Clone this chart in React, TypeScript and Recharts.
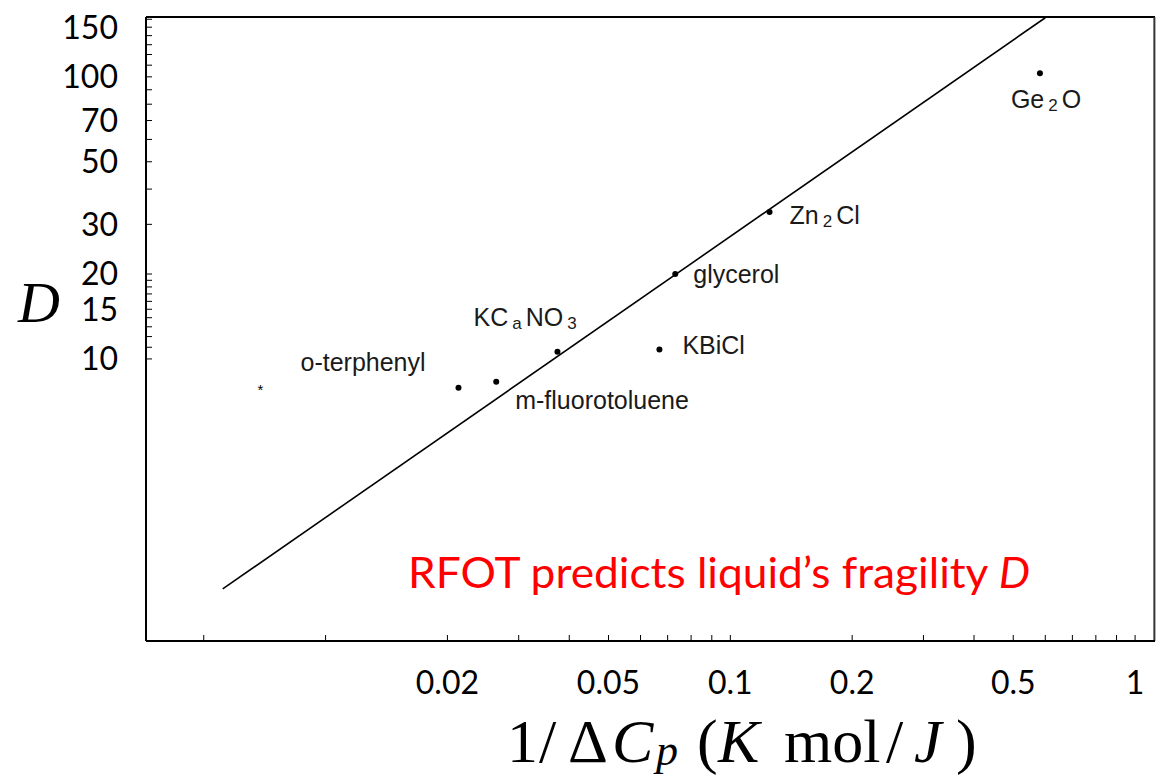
import { ComposedChart, XAxis, YAxis, Line, Scatter, ReferenceLine } from 'recharts';

// compounds (x = 1/ΔCp in K mol/J, d = fragility D)
const compounds = ['Ge_2O', 'Zn_2Cl', 'glycerol', 'KBiCl', 'KC_aNO_3', 'm-fluorotoluene', 'o-terphenyl'];
const invDeltaCp = [0.582, 0.125, 0.0731, 0.0668, 0.0374, 0.0264, 0.0213];
const fragilityD = [103, 33.2, 20.0, 10.8, 10.6, 8.3, 7.9];

// the unlabeled star marker
const starX = [0.0069];
const starD = [7.8];

// RFOT prediction line end points
const fitX = [0.00557, 0.6];
const fitD = [1.53, 162];

const xLabelTicks = [0.02, 0.05, 0.1, 0.2, 0.5, 1];
const xMinorTicks = [0.005, 0.01, 0.02, 0.03, 0.04, 0.05, 0.06, 0.07, 0.08, 0.09, 0.1, 0.2, 0.3, 0.4, 0.5, 0.6, 0.7, 0.8, 0.9, 1];
const yLabelTicks = [10, 15, 20, 30, 50, 70, 100, 150];
const yMinorTicks = [10, 11, 12, 13, 14, 15, 16, 17, 18, 19, 20, 30, 40, 50, 60, 70, 80, 90, 100, 110, 120, 130, 140, 150, 160];

const X_DOMAIN = [0.0036, 1.12];
const Y_DOMAIN = [1, 163];
// right edge of the frame, a hair inside the domain so it is not dropped
const FRAME_RIGHT = 1.116;

// where each compound's label sits relative to its dot (start x, baseline y)
const labelOffsets: Record<string, [number, number]> = {
  Ge_2O: [-29, 35],
  Zn_2Cl: [20, 12],
  glycerol: [18, 9],
  KBiCl: [23, 5],
  KC_aNO_3: [-84, -26],
  'm-fluorotoluene': [19, 27],
  'o-terphenyl': [-158, -17],
};

const points = compounds.map((name, i) => ({ name, x: invDeltaCp[i], d: fragilityD[i] }));
const stars = starX.map((x, i) => ({ x, d: starD[i] }));
const fitLine = fitX.map((x, i) => ({ x, d: fitD[i] }));

function labelParts(label: string) {
  const out: { t: string; sub: boolean }[] = [];
  let buf = '';
  for (let i = 0; i < label.length; i++) {
    if (label[i] === '_') {
      if (buf) out.push({ t: buf, sub: false });
      buf = '';
      out.push({ t: label[i + 1], sub: true });
      i++;
    } else buf += label[i];
  }
  if (buf) out.push({ t: buf, sub: false });
  return out;
}

const Dot = (props: any) => {
  const { cx, cy, payload } = props;
  const [dx, dy] = labelOffsets[payload.name] || [10, 0];
  const parts = labelParts(payload.name);
  let shifted = false;
  return (
    <g>
      <circle cx={cx} cy={cy} r={3} fill="#000" />
      <text x={cx + dx} y={cy + dy} fontFamily="Liberation Sans, Arial, sans-serif" fontSize={25} fill="#1a1a1a">
        {parts.map((p, i) => {
          if (p.sub) {
            shifted = true;
            return (
              <tspan key={i} dx={4} dy={3} fontSize={17}>
                {p.t}
              </tspan>
            );
          }
          const back = shifted ? -3 : 0;
          const gap = shifted ? 4 : 0;
          shifted = false;
          return (
            <tspan key={i} dx={gap} dy={back}>
              {p.t}
            </tspan>
          );
        })}
      </text>
    </g>
  );
};

const Star = (props: any) => (
  <text x={props.cx} y={props.cy + 6} textAnchor="middle" fontFamily="Liberation Sans, Arial, sans-serif" fontSize={15} fill="#000">
    *
  </text>
);

const tickFont = { fill: '#000', fontSize: 32, fontFamily: 'Lato, sans-serif' };
const mathFont = 'Liberation Serif, serif';

export default function App() {
  return (
    <div style={{ position: 'absolute', left: 0, top: 0, width: 1160, height: 777, background: '#fff' }}>
      <ComposedChart width={1160} height={777} margin={{ top: 17, right: 5, bottom: 0, left: 0 }}>
        <XAxis
          dataKey="x"
          type="number"
          scale="log"
          domain={X_DOMAIN}
          allowDataOverflow
          ticks={xMinorTicks}
          interval={0}
          height={136}
          tickSize={-6}
          tickMargin={36}
          tickFormatter={(v: number) => (xLabelTicks.includes(v) ? String(v) : '')}
          tick={tickFont}
          axisLine={{ stroke: '#000', strokeWidth: 2 }}
          tickLine={{ stroke: '#000' }}
        />
        <YAxis
          dataKey="d"
          type="number"
          scale="log"
          domain={Y_DOMAIN}
          allowDataOverflow
          ticks={yMinorTicks}
          interval={0}
          width={146}
          tickSize={-6}
          tickMargin={34}
          tickFormatter={(v: number) => (yLabelTicks.includes(v) ? String(v) : '')}
          tick={tickFont}
          axisLine={{ stroke: '#000', strokeWidth: 2 }}
          tickLine={{ stroke: '#000' }}
        />
        {/* top and right edges of the frame */}
        <ReferenceLine y={Y_DOMAIN[1]} stroke="#000" strokeWidth={2} />
        <ReferenceLine x={FRAME_RIGHT} stroke="#333" strokeWidth={2} ifOverflow="visible" />
        <Line data={fitLine} dataKey="d" type="linear" stroke="#000" strokeWidth={1.6} dot={false} isAnimationActive={false} />
        <Scatter data={points} dataKey="d" shape={<Dot />} isAnimationActive={false} />
        <Scatter data={stars} dataKey="d" shape={<Star />} isAnimationActive={false} />
      </ComposedChart>
      <svg width={1160} height={777} style={{ position: 'absolute', left: 0, top: 0, pointerEvents: 'none' }}>
        <text x={18} y={322} fontFamily={mathFont} fontStyle="italic" fontSize={58} fill="#000">
          D
        </text>
        <g fontFamily={mathFont} fontSize={62} fill="#000">
          <text x={507} y={762}>1</text>
          <text x={539} y={762}>/</text>
          <text x={568} y={762}>Δ</text>
          <text x={612} y={762} fontStyle="italic">C</text>
          <text x={656} y={765} fontStyle="italic" fontSize={44}>p</text>
          <text x={697} y={762}>(</text>
          <text x={718} y={762} fontStyle="italic">K</text>
          <text x={784} y={762}>mol</text>
          <text x={886} y={762}>/</text>
          <text x={914} y={762} fontStyle="italic">J</text>
          <text x={956} y={762}>)</text>
        </g>
        <text x={408} y={588} fontFamily="Lato, sans-serif" fontSize={42} fill="#ff0000" textLength={622} lengthAdjust="spacingAndGlyphs">
          RFOT predicts liquid’s fragility <tspan fontStyle="italic">D</tspan>
        </text>
      </svg>
    </div>
  );
}
